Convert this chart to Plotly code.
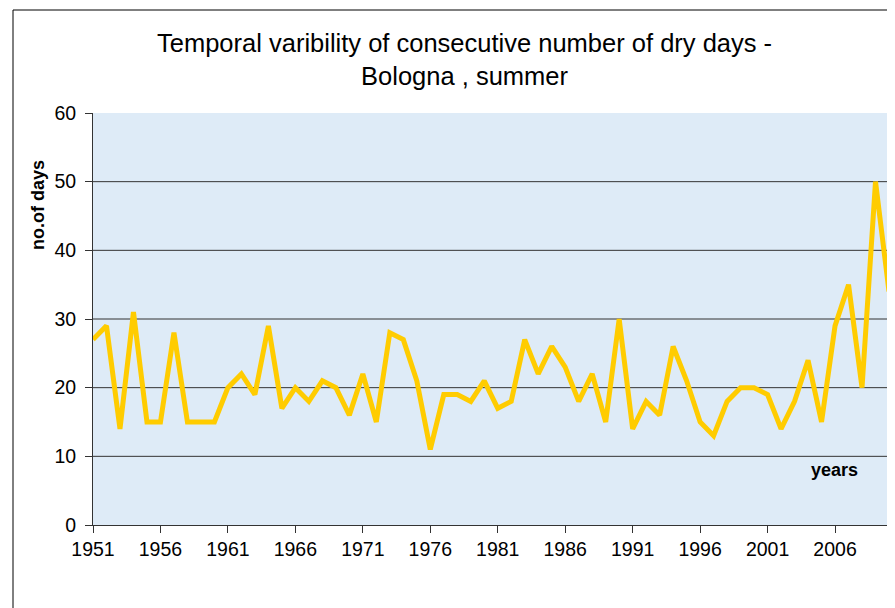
import plotly.graph_objects as go

years = list(range(1951, 2011))
dry_days = [27, 29, 14, 31, 15, 15, 28, 15, 15, 15,
            20, 22, 19, 29, 17, 20, 18, 21, 20, 16,
            22, 15, 28, 27, 21, 11, 19, 19, 18, 21,
            17, 18, 27, 22, 26, 23, 18, 22, 15, 30,
            14, 18, 16, 26, 21, 15, 13, 18, 20, 20,
            19, 14, 18, 24, 15, 29, 35, 20, 50, 34]
x_ticks = [1951, 1956, 1961, 1966, 1971, 1976, 1981, 1986, 1991, 1996, 2001, 2006]
y_ticks = [0, 10, 20, 30, 40, 50, 60]
grid_levels = [10, 20, 30, 40, 50]

FONT = "Liberation Sans, Arial, sans-serif"
OFF = 8  # page body margin
W, H = 895 - OFF, 608 - OFF
L, R, T, B = 85, 6, 105, 83
pw, ph = W - L - R, H - T - B

def px(x):
    return (x - OFF - L) / pw

def py(y):
    return (H - B - (y - OFF)) / ph

fig = go.Figure()
fig.add_trace(go.Scatter(x=years, y=dry_days, mode="lines",
                         line=dict(color="#FFCC00", width=5),
                         hoverinfo="x+y", showlegend=False))

shapes = [dict(type="line", xref="paper", yref="y", x0=0, x1=1, y0=g, y1=g,
               line=dict(color="#333333", width=1), layer="below")
          for g in grid_levels]
shapes.append(dict(type="rect", xref="paper", yref="paper",
                   x0=px(13), x1=px(1000), y0=py(10), y1=py(700),
                   line=dict(color="black", width=1)))

fig.update_layout(
    width=W, height=H,
    margin=dict(l=L, r=R, t=T, b=B),
    paper_bgcolor="white",
    plot_bgcolor="#deebf7",
    font=dict(family=FONT, color="black", size=18),
    shapes=shapes,
    xaxis=dict(range=[1951, 2010], tickvals=x_ticks, ticktext=[str(v) for v in x_ticks],
               showgrid=False, zeroline=False, showline=True, linecolor="#333333",
               linewidth=1, ticks="outside", ticklen=7, tickcolor="#333333",
               tickfont=dict(size=19.5), automargin=False),
    yaxis=dict(range=[0, 60], tickvals=y_ticks, showgrid=False, zeroline=False,
               showline=True, linecolor="#333333", linewidth=1, ticks="outside",
               ticklen=7, tickcolor="#333333", tickfont=dict(size=19.5),
               ticklabelstandoff=5, automargin=False),
    annotations=[
        dict(text="Temporal varibility of consecutive number of dry days -<br>Bologna , summer",
             xref="paper", yref="paper", x=px(464), y=py(59), xanchor="center",
             yanchor="middle", showarrow=False, font=dict(size=25.5, family=FONT)),
        dict(text="<b>no.of days</b>", xref="paper", yref="paper", x=px(38), y=py(205),
             xanchor="center", yanchor="middle", textangle=-90, showarrow=False,
             font=dict(size=18, family=FONT)),
        dict(text="<b>years</b>", xref="paper", yref="paper", x=px(834), y=py(470),
             xanchor="center", yanchor="middle", showarrow=False,
             font=dict(size=18, family=FONT)),
    ],
)

fig.write_html("out.html")
